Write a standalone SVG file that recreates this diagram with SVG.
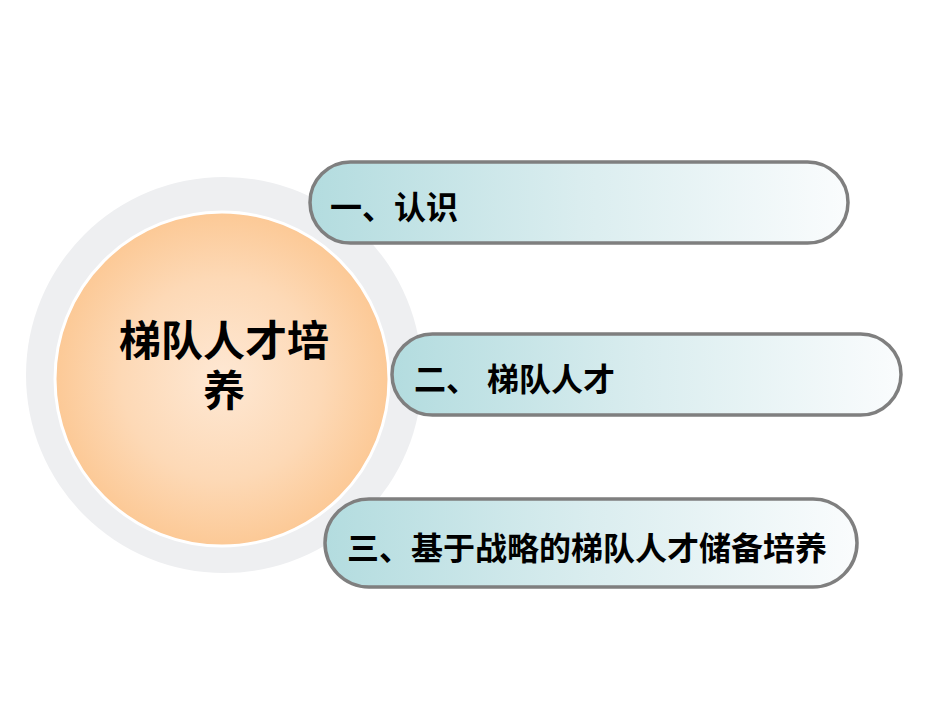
<svg xmlns="http://www.w3.org/2000/svg" width="950" height="713" viewBox="0 0 950 713">
<defs>
<radialGradient id="orange" cx="50%" cy="50%" r="50%">
<stop offset="0" stop-color="#fee8d4"/>
<stop offset="0.6" stop-color="#fdd9b6"/>
<stop offset="1" stop-color="#fcc996"/>
</radialGradient>
<linearGradient id="pill" x1="0" y1="0" x2="1" y2="0">
<stop offset="0" stop-color="#b3dcdf"/>
<stop offset="0.5" stop-color="#daedef"/>
<stop offset="1" stop-color="#fafcfd"/>
</linearGradient>
<style>
.pill{fill:url(#pill);stroke:#7f7f7f;stroke-width:3.5}
.t{font-family:"Liberation Sans","Noto Sans CJK SC",sans-serif;font-weight:bold;fill:#000}
</style>
</defs>
<rect width="950" height="713" fill="#fff"/>
<g id="center">
<circle cx="224" cy="375" r="198" fill="#eeeff1"/>
<circle cx="222" cy="379" r="167" fill="url(#orange)" stroke="#fff" stroke-width="3"/>
<text class="t" x="224" y="356" font-size="42" text-anchor="middle">梯队人才培</text>
<text class="t" x="224" y="406" font-size="42" text-anchor="middle">养</text>
</g>
<g id="connectors"></g>
<g id="item1">
<rect class="pill" x="310" y="162" width="538" height="81" rx="40.5"/>
<text class="t" x="330" y="219" font-size="32">一、认识</text>
</g>
<g id="item2">
<rect class="pill" x="392" y="334" width="509" height="81" rx="40.5"/>
<text class="t" x="414" y="391" font-size="32">二、 梯队人才</text>
</g>
<g id="item3">
<rect class="pill" x="325" y="499" width="532" height="88" rx="44"/>
<text class="t" x="347" y="560" font-size="32">三、基于战略的梯队人才储备培养</text>
</g>
</svg>
